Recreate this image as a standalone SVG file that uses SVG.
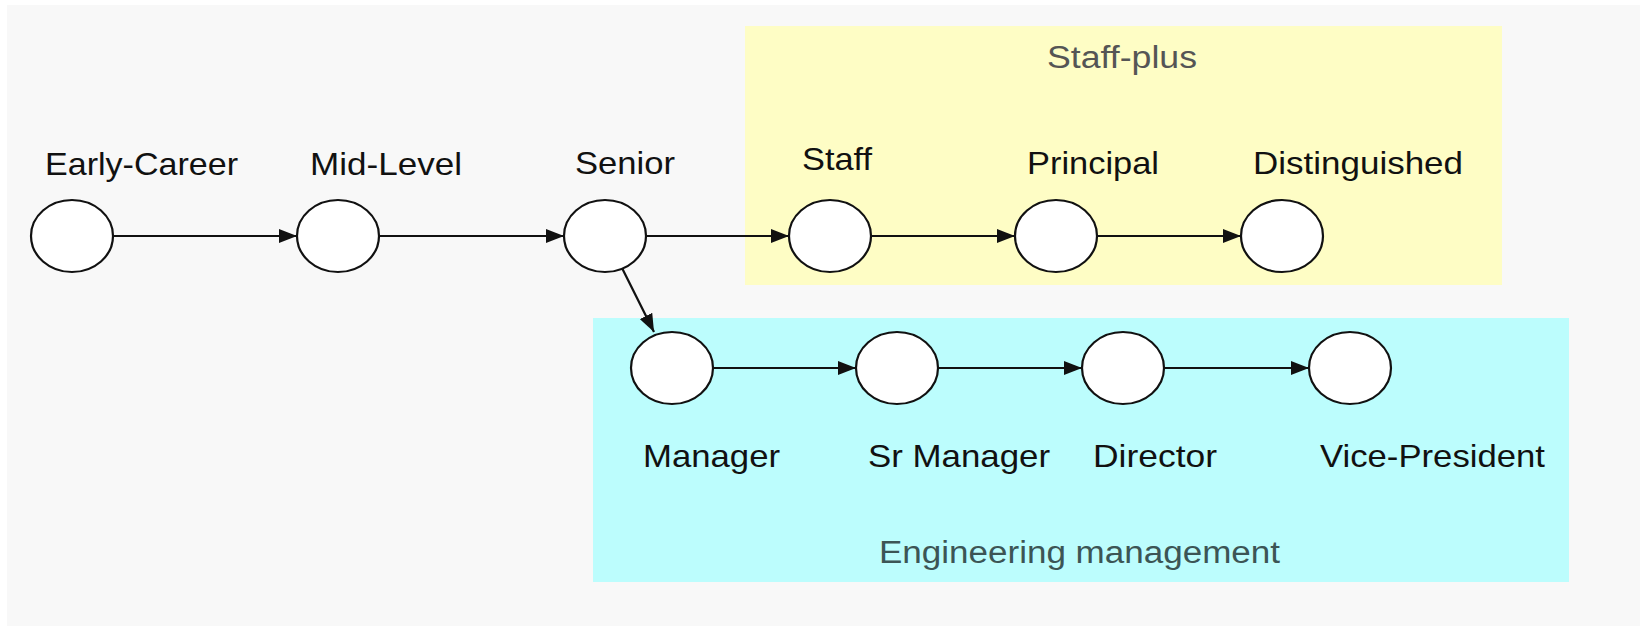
<svg xmlns="http://www.w3.org/2000/svg" width="1640" height="626" viewBox="0 0 1640 626">
<style>
.lbl{font-family:"Liberation Sans",Arial,sans-serif;font-size:32px;fill:#111}
.glbl{font-family:"Liberation Sans",Arial,sans-serif;font-size:31px}
.node{fill:#fff;stroke:#111;stroke-width:2.2}
.edge{stroke:#111;stroke-width:2.2;fill:none;marker-end:url(#arr)}
</style>
<defs>
<marker id="arr" viewBox="0 0 18 14" refX="18" refY="7" markerWidth="18" markerHeight="14" markerUnits="userSpaceOnUse" orient="auto">
<path d="M0,0 L18,7 L0,14 z" fill="#111"/>
</marker>
</defs>
<rect x="0" y="0" width="1640" height="626" fill="#ffffff"/>
<rect x="7" y="5" width="1633" height="621" fill="#f8f8f8"/>
<g id="cluster-staffplus">
<rect x="745" y="26" width="757" height="259" fill="#fefdc5"/>
<text class="glbl" x="1047" y="68" fill="#555555" textLength="150" lengthAdjust="spacingAndGlyphs">Staff-plus</text>
</g>
<g id="cluster-management">
<rect x="593" y="318" width="976" height="264" fill="#bcfdfd"/>
<text class="glbl" x="879" y="563" fill="#3c5555" textLength="401" lengthAdjust="spacingAndGlyphs">Engineering management</text>
</g>
<g id="connectors">
<line class="edge" x1="113" y1="236" x2="297" y2="236"/>
<line class="edge" x1="379" y1="236" x2="564" y2="236"/>
<line class="edge" x1="646" y1="236" x2="789" y2="236"/>
<line class="edge" x1="871" y1="236" x2="1015" y2="236"/>
<line class="edge" x1="1097" y1="236" x2="1241" y2="236"/>
<line class="edge" x1="622" y1="268" x2="654" y2="332"/>
<line class="edge" x1="713" y1="368" x2="856" y2="368"/>
<line class="edge" x1="938" y1="368" x2="1082" y2="368"/>
<line class="edge" x1="1164" y1="368" x2="1309" y2="368"/>
</g>
<g id="early-career">
<ellipse class="node" cx="72" cy="236" rx="41" ry="36"/>
<text class="lbl" x="45" y="175" textLength="193" lengthAdjust="spacingAndGlyphs">Early-Career</text>
</g>
<g id="mid-level">
<ellipse class="node" cx="338" cy="236" rx="41" ry="36"/>
<text class="lbl" x="310" y="175" textLength="152" lengthAdjust="spacingAndGlyphs">Mid-Level</text>
</g>
<g id="senior">
<ellipse class="node" cx="605" cy="236" rx="41" ry="36"/>
<text class="lbl" x="575" y="174" textLength="100" lengthAdjust="spacingAndGlyphs">Senior</text>
</g>
<g id="staff">
<ellipse class="node" cx="830" cy="236" rx="41" ry="36"/>
<text class="lbl" x="802" y="170" textLength="70" lengthAdjust="spacingAndGlyphs">Staff</text>
</g>
<g id="principal">
<ellipse class="node" cx="1056" cy="236" rx="41" ry="36"/>
<text class="lbl" x="1027" y="174" textLength="132" lengthAdjust="spacingAndGlyphs">Principal</text>
</g>
<g id="distinguished">
<ellipse class="node" cx="1282" cy="236" rx="41" ry="36"/>
<text class="lbl" x="1253" y="174" textLength="210" lengthAdjust="spacingAndGlyphs">Distinguished</text>
</g>
<g id="manager">
<ellipse class="node" cx="672" cy="368" rx="41" ry="36"/>
<text class="lbl" x="643" y="467" textLength="137" lengthAdjust="spacingAndGlyphs">Manager</text>
</g>
<g id="sr-manager">
<ellipse class="node" cx="897" cy="368" rx="41" ry="36"/>
<text class="lbl" x="868" y="467" textLength="182" lengthAdjust="spacingAndGlyphs">Sr Manager</text>
</g>
<g id="director">
<ellipse class="node" cx="1123" cy="368" rx="41" ry="36"/>
<text class="lbl" x="1093" y="467" textLength="124" lengthAdjust="spacingAndGlyphs">Director</text>
</g>
<g id="vice-president">
<ellipse class="node" cx="1350" cy="368" rx="41" ry="36"/>
<text class="lbl" x="1320" y="467" textLength="225" lengthAdjust="spacingAndGlyphs">Vice-President</text>
</g>
</svg>
